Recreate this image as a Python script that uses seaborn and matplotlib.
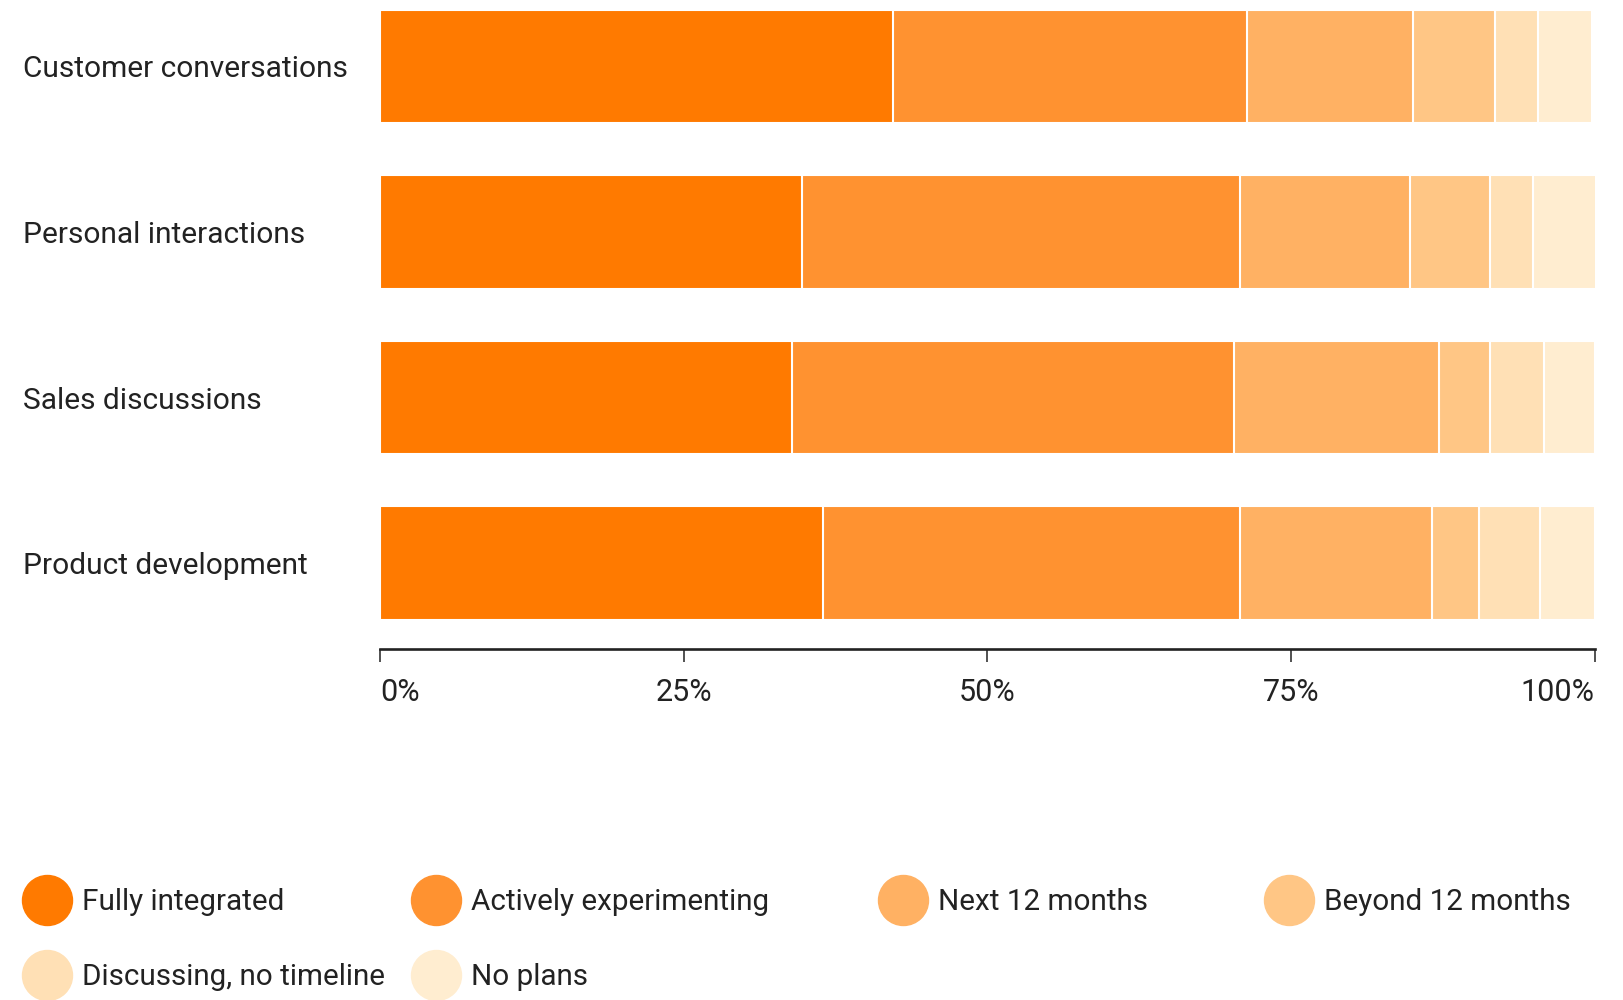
import numpy as np
import pandas as pd
import matplotlib
matplotlib.use("Agg")
import matplotlib.pyplot as plt
import seaborn as sns
from matplotlib.lines import Line2D

# Data (percent of respondents)
categories = ["Customer conversations", "Personal interactions", "Sales discussions", "Product development"]
statuses = ["Fully integrated", "Actively experimenting", "Next 12 months",
            "Beyond 12 months", "Discussing, no timeline", "No plans"]
fully_integrated = [42.2, 34.7, 33.9, 36.5]
actively_experimenting = [29.2, 36.1, 36.4, 34.3]
next_12_months = [13.6, 14.0, 16.9, 15.8]
beyond_12_months = [6.8, 6.6, 4.2, 3.9]
discussing = [3.5, 3.5, 4.4, 5.0]
no_plans = [4.5, 5.3, 4.2, 4.5]
colors = ["#FF7A00", "#FF9230", "#FFB163", "#FFC685", "#FFE0B5", "#FFEDD0"]
tick_vals = [0, 25, 50, 75, 100]
tick_labels = ["0%", "25%", "50%", "75%", "100%"]

series = [fully_integrated, actively_experimenting, next_12_months,
          beyond_12_months, discussing, no_plans]
cum = np.cumsum(np.array(series), axis=0)

sns.set_style("white")
plt.rcParams["font.family"] = ["Roboto", "DejaVu Sans"]
text_color = "#222222"

fig = plt.figure(figsize=(16.24, 10), dpi=100)
ax = fig.add_axes([0.234, 0.351, 0.748, 0.649])

# stacked bars: draw cumulative totals from the largest down
for i in range(len(statuses) - 1, -1, -1):
    df = pd.DataFrame({"category": categories, "value": cum[i]})
    sns.barplot(data=df, x="value", y="category", color=colors[i], width=0.685,
                edgecolor="white", linewidth=1.5, saturation=1, ax=ax, zorder=2 + (6 - i))

ax.set_xlim(0, 100)
ax.set_ylim(3.518, -0.40)
ax.set_xlabel("")
ax.set_ylabel("")

for s in ["top", "right", "left"]:
    ax.spines[s].set_visible(False)
ax.spines["bottom"].set_color(text_color)
ax.spines["bottom"].set_linewidth(1.9)

ax.set_xticks(tick_vals)
ax.set_xticklabels(tick_labels, fontsize=22, color=text_color)
ax.tick_params(axis="x", bottom=True, direction="out", length=9, width=1.1,
               color=text_color, pad=12)
xl = ax.get_xticklabels()
xl[0].set_ha("left")
xl[-1].set_ha("right")

ax.tick_params(axis="y", left=False, length=0, pad=257, labelsize=21.5, labelcolor=text_color)
for t in ax.get_yticklabels():
    t.set_ha("left")

# legend: one entry per item, laid out like the reference
leg_pos = [(23, 902), (412, 902), (879, 902), (1265, 902), (23, 977), (412, 977)]
for (px, py), lab, col in zip(leg_pos, statuses, colors):
    h = Line2D([], [], marker="o", ls="", markersize=36, color=col)
    fig.legend(handles=[h], labels=[lab], loc="center left",
               bbox_to_anchor=(px / 1624, 1 - py / 1000), frameon=False,
               fontsize=21.3, labelcolor=text_color, borderpad=0, borderaxespad=0,
               handlelength=1.6, handletextpad=0.4)

fig.savefig("out.png", dpi=100)
